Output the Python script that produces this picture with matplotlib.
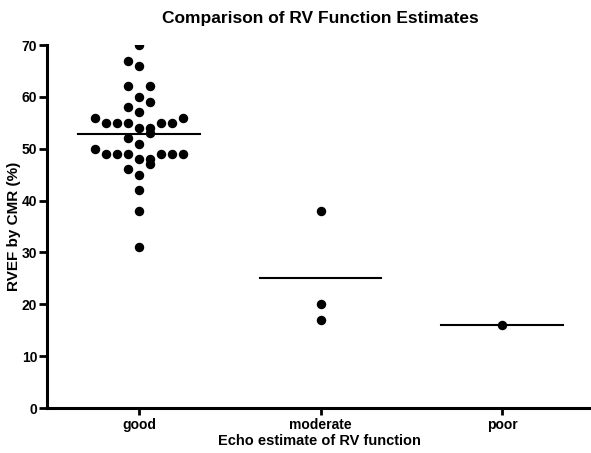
import numpy as np
import matplotlib.pyplot as plt

plt.rcParams['font.family'] = ['Liberation Sans', 'DejaVu Sans']
plt.rcParams['font.weight'] = 'bold'

# ── Data ─────────────────────────────────────────────
categories = ['good', 'moderate', 'poor']

good = [70, 67, 66, 62, 62, 60, 59, 58, 57, 56, 56,
        55, 55, 55, 55, 55, 54, 54, 53, 52, 51, 50,
        49, 49, 49, 49, 49, 49, 48, 48, 47, 46, 45, 42, 38, 31]
moderate = [38, 20, 17]
poor = [16]

# ── Layout: column slot of each point (scatter spreading) ───
good_slots = [0, -1, 0, -1, 1, 0, 1, -1, 0, -4, 4,
              -3, -2, -1, 2, 3, 0, 1, 1, -1, 0, -4,
              -3, -2, -1, 2, 3, 4, 0, 1, 1, -1, 0, 0, 0, 0]
moderate_slots = [0, 0, 0]
poor_slots = [0]
slot_w = 0.0606

groups = [good, moderate, poor]
slots = [good_slots, moderate_slots, poor_slots]

fig = plt.figure(figsize=(5.91, 4.53), dpi=100)
ax = fig.add_axes([47 / 591, 45 / 453, 1 - 47 / 591, 363 / 453])

for i, (vals, sl) in enumerate(zip(groups, slots)):
    xs = i + np.array(sl) * slot_w
    ax.plot(xs, vals, 'o', color='black', markersize=5.8, zorder=3)
    m = np.mean(vals)
    ax.plot([i - 0.335, i + 0.335], [m, m], color='black', lw=1.5, zorder=2)

ax.set_xlim(-0.507, 2.49)
ax.set_ylim(0, 70)
ax.set_xticks(range(len(categories)))
ax.set_xticklabels(categories, fontsize=10, fontweight='bold')
ax.set_yticks(np.arange(0, 71, 10))
ax.tick_params(axis='y', labelsize=10, width=2, length=6, pad=1)
ax.tick_params(axis='x', width=2, length=5, pad=2)
for lab in ax.get_yticklabels():
    lab.set_fontweight('bold')

for s in ['top', 'right']:
    ax.spines[s].set_visible(False)
for s in ['left', 'bottom']:
    ax.spines[s].set_linewidth(2.2)

ax.set_xlabel('Echo estimate of RV function', fontsize=10.5, fontweight='bold')
ax.xaxis.set_label_coords(0.5, -0.073)
ax.set_ylabel('RVEF by CMR (%)', fontsize=11, fontweight='bold')
ax.yaxis.set_label_coords(-0.048, 0.5)
fig.text(320 / 591, 1 - 19 / 453, 'Comparison of RV Function Estimates',
         ha='center', va='center', fontsize=12.5, fontweight='bold')

fig.savefig('out.png', dpi=100)
